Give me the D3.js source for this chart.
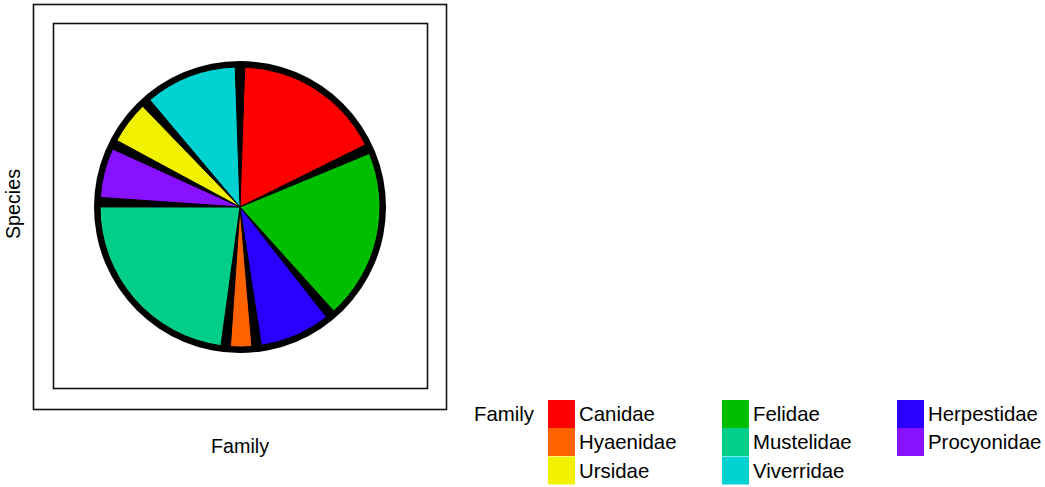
<!DOCTYPE html>
<html>
<head>
<meta charset="utf-8">
<script src="https://cdn.jsdelivr.net/npm/d3@7"></script>
<style>
  html, body { margin: 0; padding: 0; background: #fff; }
  svg text { font-family: "Liberation Sans", Arial, sans-serif; fill: #000; }
</style>
</head>
<body>
<svg id="chart" width="1045" height="487"></svg>
<script>
const families = ["Canidae", "Felidae", "Herpestidae", "Hyaenidae", "Mustelidae", "Procyonidae", "Ursidae", "Viverridae"];
const species = [21, 24, 10, 3, 28, 7, 6, 13];
const colors = ["#FF0000", "#00BE00", "#2B00FF", "#FF6300", "#00CE8A", "#8811FF", "#F2F200", "#00D1D1"];
const xTitle = "Family";
const yTitle = "Species";
const legendTitle = "Family";

const svg = d3.select("#chart");

// plot background border and panel border
svg.append("rect").attr("x", 33.5).attr("y", 4.5).attr("width", 413).attr("height", 405)
  .attr("fill", "none").attr("stroke", "#111").attr("stroke-width", 1.6);
svg.append("rect").attr("x", 53.5).attr("y", 23.5).attr("width", 374).attr("height", 365)
  .attr("fill", "none").attr("stroke", "#111").attr("stroke-width", 1.6);

const cx = 240, cy = 207, R = 140;
const data = families.map((f, i) => ({ family: f, value: species[i], color: colors[i] }));
const pie = d3.pie().sort(null).value(d => d.value).startAngle(0).endAngle(2 * Math.PI).padAngle(0.068);
const arc = d3.arc().innerRadius(0).outerRadius(R);

const g = svg.append("g").attr("transform", `translate(${cx},${cy})`);
g.append("circle").attr("r", R + 6).attr("fill", "#000");
g.selectAll("path.slice").data(pie(data)).join("path")
  .attr("class", "slice")
  .attr("d", arc)
  .attr("fill", d => d.data.color)
  .attr("stroke", "#000")
  .attr("stroke-width", 1);

// axis titles
svg.append("text").attr("x", 240).attr("y", 453).attr("text-anchor", "middle")
  .attr("font-size", 19.7).text(xTitle);
svg.append("text").attr("transform", "translate(20,204) rotate(-90)").attr("text-anchor", "middle")
  .attr("font-size", 19.7).text(yTitle);

// legend
svg.append("text").attr("x", 474).attr("y", 421).attr("font-size", 20.4).text(legendTitle);
const colX = [548, 722, 897];
const rowY = [400, 428, 456.5];
const keyW = 27, keyH = 28;
data.forEach((d, i) => {
  const r = Math.floor(i / 3), c = i % 3;
  svg.append("rect").attr("x", colX[c]).attr("y", rowY[r]).attr("width", keyW).attr("height", keyH)
    .attr("fill", d.color);
  svg.append("text").attr("x", colX[c] + keyW + 4).attr("y", rowY[r] + 21)
    .attr("font-size", 20.4).text(d.family);
});
</script>
</body>
</html>
